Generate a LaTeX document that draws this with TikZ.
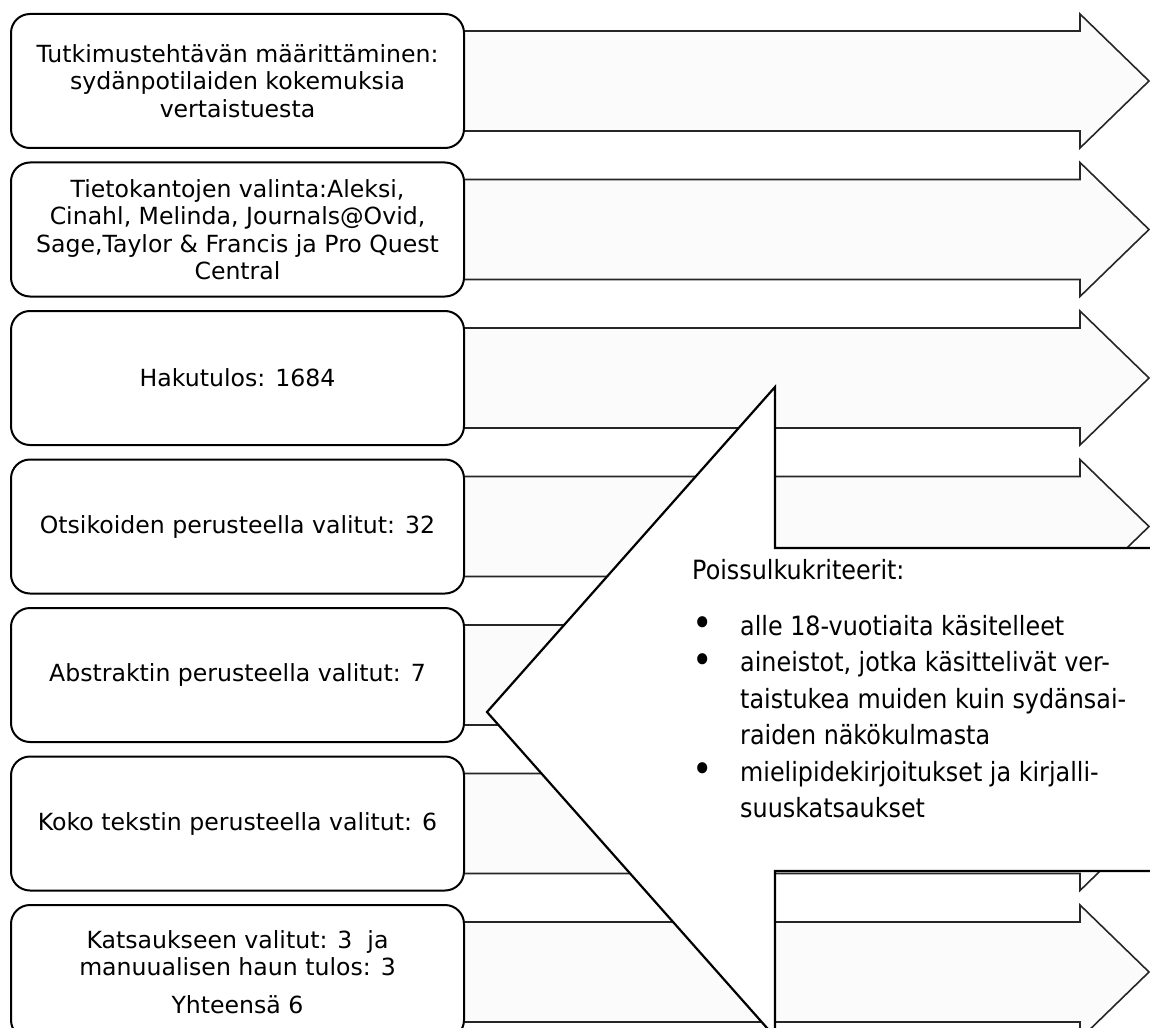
\documentclass[tikz,border=0pt]{standalone}
\usepackage{fontspec}
\setmainfont{DejaVu Sans}
\newfontfamily\calloutfont[FakeStretch=0.9]{DejaVu Sans}
\usetikzlibrary{positioning, calc, backgrounds}

\newcommand{\critbullet}{\raisebox{-1.5pt}{\scalebox{1.45}{\textbullet}}}

\tikzset{
  stepbox/.style={draw=black, line width=2pt, fill=white, rounded corners=19pt,
    minimum width=453pt, minimum height=134pt, inner sep=0pt, align=center,
    font=\fontsize{23.6}{27.5}\selectfont},
  flowarrow/.style={draw=black!85, line width=1.6pt, fill=black!1.5, line join=miter},
  callout/.style={draw=black, line width=2.2pt, fill=white, line join=miter}
}

\begin{document}
\begin{tikzpicture}[x=1pt, y=-1pt]
  \useasboundingbox (0,0) rectangle (1150,1027);
  \clip (0,0) rectangle (1150,1027);

  % Steps
  \node[stepbox, anchor=north west] (box1) at (10,13)
    {Tutkimustehtävän määrittäminen:\\sydänpotilaiden kokemuksia\\vertaistuesta};
  \node[stepbox, below=12.5pt of box1] (box2)
    {Tietokantojen valinta:Aleksi,\\Cinahl, Melinda, Journals@Ovid,\\Sage,Taylor \& Francis ja Pro Quest\\Central};
  \node[stepbox, below=12.5pt of box2] (box3) {Hakutulos: 1684};
  \node[stepbox, below=12.5pt of box3] (box4) {Otsikoiden perusteella valitut: 32};
  \node[stepbox, below=12.5pt of box4] (box5) {Abstraktin perusteella valitut: 7};
  \node[stepbox, below=12.5pt of box5] (box6) {Koko tekstin perusteella valitut: 6};
  \node[stepbox, below=12.5pt of box6] (box7)
    {Katsaukseen valitut: 3 \ ja\\manuualisen haun tulos: 3\\[10pt]Yhteensä 6};

  % Arrows behind the steps
  \begin{scope}[on background layer]
    \foreach \i in {1,...,7}
      \draw[flowarrow] ($(box\i.east)+(-8,-50)$) -- ++(623,0) -- ++(0,-17)
        -- ($(box\i.east)+(684,0)$) -- ++(-69,67) -- ++(0,-17) -- ++(-623,0) -- cycle;
  \end{scope}

  % Exclusion callout
  \draw[callout] (487,712) -- (775,387) -- (775,548) -- (1170,548) -- (1170,871)
    -- (775,871) -- (775,1037) -- cycle;
  \node[anchor=base west, inner sep=0pt, font=\calloutfont\fontsize{26.5}{36.5}\selectfont] (crit) at (692,579)
    {\begin{tabular}[t]{@{}p{48pt}@{}l@{}}
      \multicolumn{2}{@{}l@{}}{Poissulkukriteerit:}\\[19.5pt]
      \critbullet & alle 18-vuotiaita käsitelleet\\
      \critbullet & aineistot, jotka käsittelivät ver-\\
                  & taistukea muiden kuin sydänsai-\\
                  & raiden näkökulmasta\\
      \critbullet & mielipidekirjoitukset ja kirjalli-\\
                  & suuskatsaukset
    \end{tabular}};
\end{tikzpicture}
\end{document}
